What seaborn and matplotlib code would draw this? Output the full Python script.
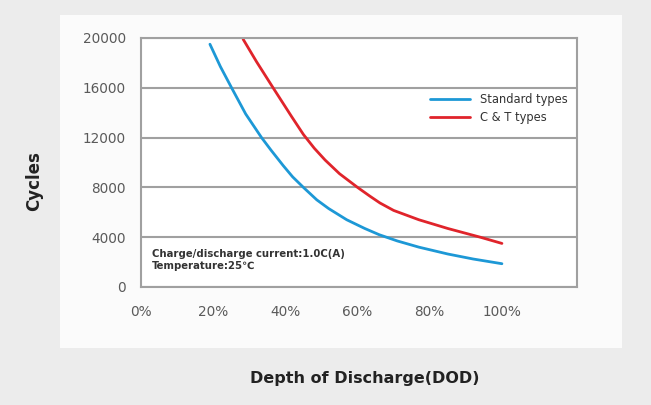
import pandas as pd
import matplotlib.pyplot as plt
import seaborn as sns
from matplotlib.patches import Rectangle

# Data (DOD in %, cycles)
dod_standard = [19.1, 22, 25.1, 29, 33.4, 36, 39.4, 42, 45, 48.7, 52, 57, 62, 66, 71, 77, 85, 92, 100]
cycles_standard = [19500, 17700, 16000, 13900, 12000, 11000, 9750, 8850, 8000, 7000, 6300, 5400, 4700, 4200, 3700, 3200, 2650, 2250, 1870]

dod_ct = [28.3, 32, 36.6, 41.7, 45, 48, 51, 55, 60, 63.4, 66.2, 70, 77, 85, 94, 100]
cycles_ct = [19900, 18100, 16000, 13700, 12250, 11150, 10200, 9100, 8000, 7300, 6750, 6150, 5400, 4700, 4000, 3500]

series_names = ['Standard types', 'C & T types']
series_colors = ['#1d98d6', '#e0242b']

x_ticks = [0, 20, 40, 60, 80, 100]
x_tick_labels = ['0%', '20%', '40%', '60%', '80%', '100%']
y_ticks = [0, 4000, 8000, 12000, 16000, 20000]

df = pd.concat([
    pd.DataFrame({'DOD': dod_standard, 'Cycles': cycles_standard, 'Type': series_names[0]}),
    pd.DataFrame({'DOD': dod_ct, 'Cycles': cycles_ct, 'Type': series_names[1]}),
])

sns.set_theme(style='white')
plt.rcParams['font.family'] = ['DejaVu Sans']

fig = plt.figure(figsize=(6.51, 4.05), dpi=100)
fig.patch.set_facecolor('#ececec')
# white card behind the plot
card = Rectangle((60 / 651, 1 - 348 / 405), 562 / 651, 333 / 405,
                 transform=fig.transFigure, facecolor='#fbfbfb',
                 edgecolor='none', zorder=-10)
fig.add_artist(card)

ax = fig.add_axes([141 / 651, 1 - 287 / 405, 436 / 651, 249 / 405])
ax.set_zorder(1)
ax.set_facecolor('white')

sns.lineplot(data=df, x='DOD', y='Cycles', hue='Type', hue_order=series_names,
             palette=series_colors, linewidth=2.0, sort=False, ax=ax)

ax.set_xlim(0, 120.8)
ax.set_ylim(0, 20000)
ax.set_xticks(x_ticks)
ax.set_xticklabels(x_tick_labels)
ax.set_yticks(y_ticks)
ax.yaxis.grid(True, color='#a0a0a0', linewidth=1.5)
ax.set_axisbelow(True)
for s in ax.spines.values():
    s.set_color('#a0a0a0')
    s.set_linewidth(1.5)
ax.tick_params(axis='both', length=0, labelsize=9.8, colors='#5a5a5a')
ax.tick_params(axis='x', pad=13)
ax.tick_params(axis='y', pad=11)

ax.set_xlabel('')
ax.set_ylabel('')
fig.text(34 / 651, 1 - 181 / 405, 'Cycles', rotation=90, ha='center', va='center',
         fontsize=12, fontweight='bold', color='#222222')
fig.text(365 / 651, 1 - 379 / 405, 'Depth of Discharge(DOD)', ha='center', va='center',
         fontsize=11.5, fontweight='bold', color='#222222')

leg = ax.legend(loc='upper left', bbox_to_anchor=((430 - 141) / 436, (287 - 93) / 249),
                frameon=False, fontsize=8.3, handlelength=3.5, handletextpad=0.8,
                labelspacing=0.4, borderpad=0, borderaxespad=0)
for t in leg.get_texts():
    t.set_color('#333333')

ax.text((152 - 141) / 436, (287 - 260) / 249,
        'Charge/discharge current:1.0C(A)\nTemperature:25\u2103',
        transform=ax.transAxes, fontsize=7.3, fontweight='bold', color='#333333',
        va='center', ha='left', linespacing=1.3)

plt.savefig('out.png', dpi=100, facecolor=fig.get_facecolor())
